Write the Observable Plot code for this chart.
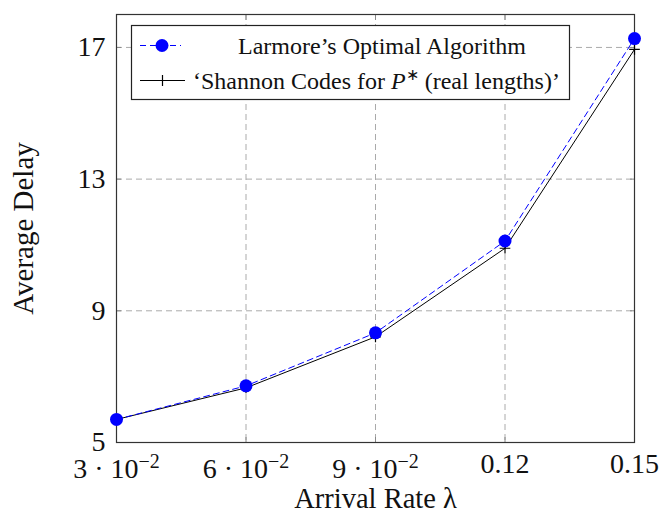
<!DOCTYPE html>
<html><head><meta charset="utf-8">
<script src="https://cdn.jsdelivr.net/npm/d3@7"></script>
<script src="https://cdn.jsdelivr.net/npm/@observablehq/plot@0.6"></script>
<style>
body{margin:0;background:#fff;}
#wrap{position:relative;width:661px;height:514px;}
</style>
</head><body>
<div id="wrap"></div>
<script>
const lambda = [0.03, 0.06, 0.09, 0.12, 0.15];
const larmore = [5.70, 6.72, 8.33, 11.12, 17.27];
const shannon = [5.70, 6.66, 8.21, 10.90, 16.94];
const xTicks = [0.03, 0.06, 0.09, 0.12, 0.15];
const xTickLabels = ["3·10|−2", "6·10|−2", "9·10|−2", "0.12", "0.15"];
const yTicks = [5, 9, 13, 17];
const seriesNames = ["Larmore’s Optimal Algorithm", "‘Shannon Codes for |P|∗| (real lengths)’"];

const rowsL = lambda.map((x, i) => ({x, y: larmore[i]}));
const rowsS = lambda.map((x, i) => ({x, y: shannon[i]}));

const FONT = "'Liberation Serif', 'Times New Roman', serif";
const plusSym = {draw(ctx, size){const r = Math.sqrt(size)/2; ctx.moveTo(-r,0); ctx.lineTo(r,0); ctx.moveTo(0,-r); ctx.lineTo(0,r);}};
const gridStyle = {stroke: "#aaa", strokeOpacity: 1, strokeDasharray: "6,4", strokeWidth: 1};

const chart = Plot.plot({
  width: 661, height: 514,
  marginLeft: 116, marginRight: 27, marginTop: 14, marginBottom: 72,
  style: {fontFamily: FONT, fontSize: "28px", color: "#111"},
  x: {domain: [0.03, 0.15], label: null},
  y: {domain: [5, 18], label: null},
  marks: [
    Plot.gridX(xTicks, gridStyle),
    Plot.gridY(yTicks, gridStyle),
    Plot.axisX({ticks: xTicks, tickSize: 0, tickPadding: 11, tickFormat: (d) => xTickLabels[xTicks.indexOf(d)], fontSize: 28}),
    Plot.axisX({ticks: xTicks, tickSize: -5, tickFormat: () => "", stroke: "#888"}),
    Plot.axisX({anchor: "top", ticks: xTicks, tickSize: -5, tickFormat: () => "", stroke: "#888"}),
    Plot.axisY({ticks: yTicks, tickSize: 0, tickPadding: 11, fontSize: 28}),
    Plot.axisY({ticks: yTicks, tickSize: -5, tickFormat: () => "", stroke: "#888"}),
    Plot.axisY({anchor: "right", ticks: yTicks, tickSize: -5, tickFormat: () => "", stroke: "#888"}),
    Plot.frame({stroke: "#333", strokeWidth: 1.2}),
    Plot.line(rowsS, {x: "x", y: "y", stroke: "black", strokeWidth: 1}),
    Plot.dot(rowsS, {x: "x", y: "y", symbol: plusSym, r: 6, stroke: "black", strokeWidth: 1.2, fill: "none"}),
    Plot.line(rowsL, {x: "x", y: "y", stroke: "#0000ff", strokeWidth: 1, strokeDasharray: "6,4"}),
    Plot.dot(rowsL, {x: "x", y: "y", r: 6.5, fill: "#0000ff", stroke: "none"}),
    Plot.text(["Arrival Rate λ"], {frameAnchor: "bottom", lineAnchor: "bottom", dy: 65, fontSize: 28.5, fill: "#111"}),
    Plot.text(["Average Delay"], {frameAnchor: "left", textAnchor: "middle", dx: -93, rotate: -90, fontSize: 29, fill: "#111"})
  ]
});

const svg = d3.select(chart);
// superscripts in x tick labels (label box tops aligned, so these sit a little lower)
svg.selectAll("text").each(function(){
  const t = d3.select(this);
  const s = t.text();
  if (s.includes("|")) {
    const [base, exp] = s.split("|");
    t.text(null);
    t.append("tspan").attr("dy", "5").text(base.replace("·", " · "));
    t.append("tspan").attr("font-size", "20px").attr("dy", "-10").text(exp);
  }
});

// legend box inside the plot frame
const lg = svg.append("g").attr("font-family", FONT).attr("font-size", 24).attr("fill", "#111").attr("text-anchor", "start");
lg.append("rect").attr("x", 131.5).attr("y", 25.5).attr("width", 438).attr("height", 74)
  .attr("fill", "white").attr("stroke", "#222").attr("stroke-width", 1.2);
// row 1
lg.append("line").attr("x1", 140).attr("x2", 181).attr("y1", 45.5).attr("y2", 45.5)
  .attr("stroke", "#0000ff").attr("stroke-width", 1.2).attr("stroke-dasharray", "6,4");
lg.append("circle").attr("cx", 162).attr("cy", 45.5).attr("r", 6.5).attr("fill", "#0000ff");
lg.append("text").attr("x", 382).attr("y", 45.5).attr("dy", "0.35em").attr("text-anchor", "middle").text(seriesNames[0]);
// row 2
lg.append("line").attr("x1", 140).attr("x2", 185).attr("y1", 80.5).attr("y2", 80.5)
  .attr("stroke", "black").attr("stroke-width", 1.2);
lg.append("path").attr("d", "M162.5 75V86M157 80.5H168").attr("stroke", "black").attr("stroke-width", 1.2);
const t2 = lg.append("text").attr("x", 193).attr("y", 80.5).attr("dy", "0.35em").attr("text-anchor", "start");
const parts = seriesNames[1].split("|");
t2.append("tspan").text(parts[0]);
t2.append("tspan").attr("font-style", "italic").text(parts[1]);
t2.append("tspan").attr("font-size", 16).attr("dy", -9).text(parts[2]);
t2.append("tspan").attr("dy", 9).text(parts[3]);

document.getElementById("wrap").appendChild(chart);
</script>
</body></html>
